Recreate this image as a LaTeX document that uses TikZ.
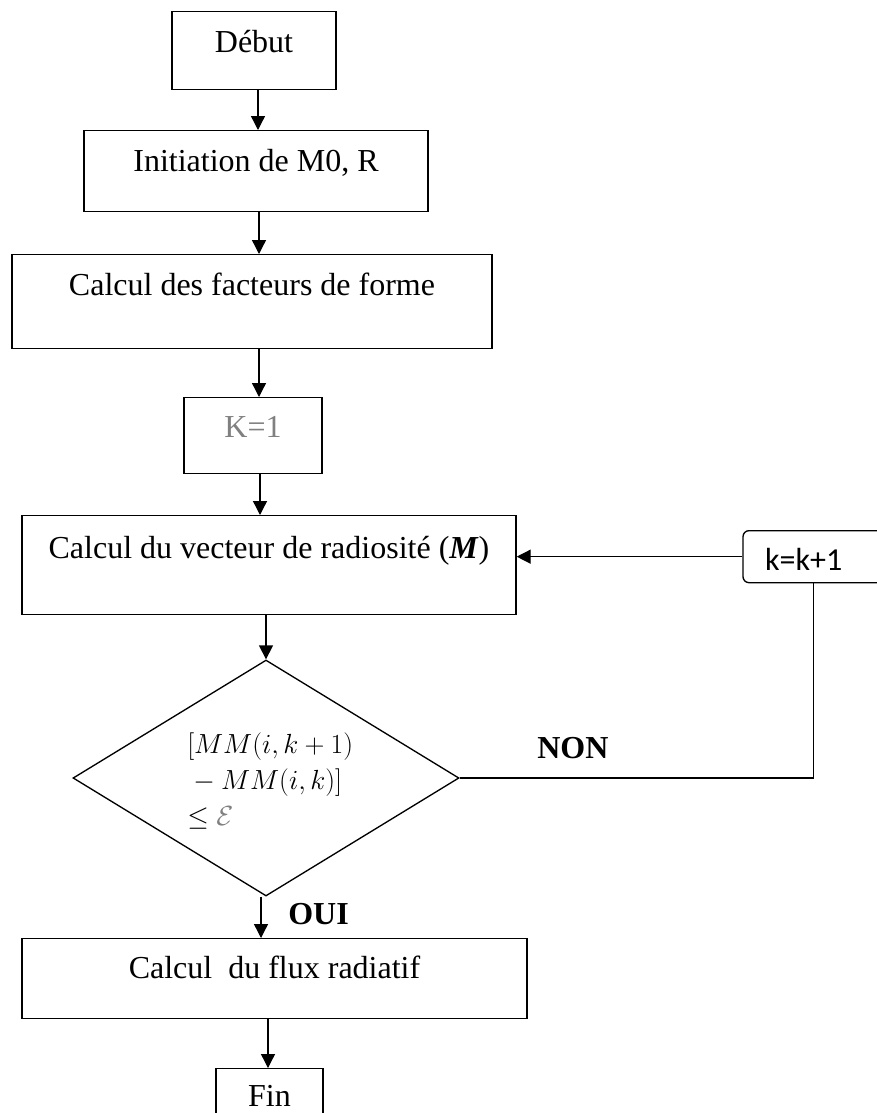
\documentclass[tikz,border=0pt]{standalone}
\usepackage{fontspec}
\setmainfont{Liberation Serif}
\newfontfamily\calibri{Carlito}
\usetikzlibrary{shapes.geometric,arrows.meta}

\begin{document}
\begin{tikzpicture}[x=0.75pt,y=-0.75pt,
    box/.style={draw,line width=1pt,rectangle,inner sep=0pt,anchor=north,
      font=\fontsize{24}{28}\selectfont,text height=30.75pt},
    arr/.style={line width=1pt,-{Triangle[length=10.5pt,width=10.5pt]}}]
  \useasboundingbox (0,0) rectangle (877,1113);
  \clip (0,0) rectangle (877,1113);
  % boites
  \node[box,minimum width=123pt,text depth=27.75pt] (debut) at (254,11) {Début};
  \node[box,minimum width=258pt,text depth=30pt] (init) at (256,130) {Initiation de M0, R};
  \node[box,minimum width=360pt,text depth=39.75pt] (facteurs) at (252,254) {Calcul des facteurs de forme};
  \node[box,minimum width=103.5pt,text height=30pt,text depth=27pt,text=gray] (k1) at (253,397) {K=1};
  \node[box,minimum width=370.5pt,text height=32.25pt,text depth=42pt] (radio) at (269,515)
    {Calcul du vecteur de radiosité (\textbf{\textit{M}})};
  \node[box,rounded corners=4.5pt,inner xsep=16.5pt,text width=72.75pt,align=left,
    text height=30pt,text depth=9pt,font=\fontsize{24}{28}\calibri] (incr) at (813.5,530) {k=k+1};
  \node[box,minimum width=378.75pt,text height=30pt,text depth=30pt] (flux) at (274.5,938)
    {Calcul~ du flux radiatif};
  \node[box,minimum width=80.25pt,text height=28.5pt,text depth=18pt] (fin) at (269.5,1068) {Fin};
  % test
  \node[draw,diamond,line width=1pt,minimum width=289.5pt,minimum height=177pt,inner sep=0pt] (test) at (266,778) {};
  \node[anchor=west,align=left,inner sep=0pt,font=\fontsize{19.5}{27}\selectfont] (cond) at (187,781)
    {$[MM(i,k+1)$\\${}-MM(i,k)]$\\$\leq\textcolor{gray}{\mathcal{E}}$};
  \node[anchor=base west,inner sep=0pt,font=\fontsize{24}{28}\selectfont\bfseries] (non) at (537,758) {NON};
  \node[anchor=base west,inner sep=0pt,font=\fontsize{24}{28}\selectfont\bfseries] (oui) at (288,924) {OUI};
  % liaisons
  \draw[arr] (debut.south -| 258,0) -- (init.north -| 258,0);
  \draw[arr] (init.south -| 259,0) -- (facteurs.north -| 259,0);
  \draw[arr] (facteurs.south -| 259,0) -- (k1.north -| 259,0);
  \draw[arr] (k1.south -| 260,0) -- (radio.north -| 260,0);
  \draw[arr] (radio.south -| test.north) -- (test.north);
  \draw[arr] (test.south -| 261,0) -- (flux.north -| 261,0);
  \draw[arr] (flux.south -| 268,0) -- (fin.north -| 268,0);
  \draw[line width=1pt] (test.east) -| (incr.south);
  \draw[arr] (incr.west) -- (incr.west -| radio.east);
\end{tikzpicture}
\end{document}
